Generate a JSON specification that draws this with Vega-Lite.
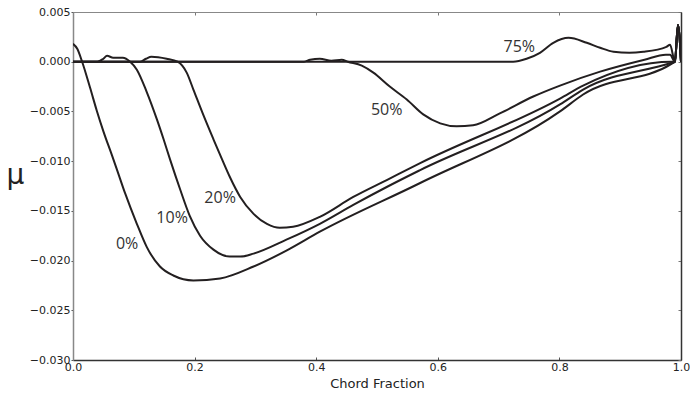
{
  "$schema": "https://vega.github.io/schema/vega-lite/v6.json",
  "width": 608,
  "height": 348,
  "autosize": {"type": "none"},
  "padding": {"left": 73, "top": 12, "right": 9, "bottom": 34},
  "background": "white",
  "config": {"view": {"stroke": null}},
  "datasets": {
    "curves": [
      {"curve": "0%", "x": 0, "mu": 0.0018},
      {"curve": "0%", "x": 0.007, "mu": 0.0013},
      {"curve": "0%", "x": 0.015, "mu": 0.0},
      {"curve": "0%", "x": 0.028, "mu": -0.0026},
      {"curve": "0%", "x": 0.039, "mu": -0.0049},
      {"curve": "0%", "x": 0.05, "mu": -0.007},
      {"curve": "0%", "x": 0.064, "mu": -0.0094},
      {"curve": "0%", "x": 0.072, "mu": -0.0108},
      {"curve": "0%", "x": 0.0855, "mu": -0.0132},
      {"curve": "0%", "x": 0.105, "mu": -0.0163},
      {"curve": "0%", "x": 0.121, "mu": -0.0186},
      {"curve": "0%", "x": 0.143, "mu": -0.0206},
      {"curve": "0%", "x": 0.165, "mu": -0.0215},
      {"curve": "0%", "x": 0.198, "mu": -0.022},
      {"curve": "0%", "x": 0.242, "mu": -0.0218},
      {"curve": "0%", "x": 0.297, "mu": -0.0206},
      {"curve": "0%", "x": 0.351, "mu": -0.019},
      {"curve": "0%", "x": 0.406, "mu": -0.0171},
      {"curve": "0%", "x": 0.571, "mu": -0.0122},
      {"curve": "0%", "x": 0.801, "mu": -0.005},
      {"curve": "0%", "x": 0.839, "mu": -0.0033},
      {"curve": "0%", "x": 0.985, "mu": -0.0002},
      {"curve": "0%", "x": 0.99, "mu": 0.0},
      {"curve": "0%", "x": 0.995, "mu": 0.0037},
      {"curve": "0%", "x": 1.0, "mu": 0.0},

      {"curve": "10%", "x": 0, "mu": 0.0},
      {"curve": "10%", "x": 0.04, "mu": 0.0},
      {"curve": "10%", "x": 0.05, "mu": 0.0003},
      {"curve": "10%", "x": 0.056, "mu": 0.0006},
      {"curve": "10%", "x": 0.066, "mu": 0.0004},
      {"curve": "10%", "x": 0.082, "mu": 0.0004},
      {"curve": "10%", "x": 0.094, "mu": 0.0},
      {"curve": "10%", "x": 0.105, "mu": -0.0008},
      {"curve": "10%", "x": 0.121, "mu": -0.003},
      {"curve": "10%", "x": 0.138, "mu": -0.0058},
      {"curve": "10%", "x": 0.149, "mu": -0.0078},
      {"curve": "10%", "x": 0.16, "mu": -0.0099},
      {"curve": "10%", "x": 0.176, "mu": -0.0128},
      {"curve": "10%", "x": 0.192, "mu": -0.0155},
      {"curve": "10%", "x": 0.209, "mu": -0.0175},
      {"curve": "10%", "x": 0.231, "mu": -0.0189},
      {"curve": "10%", "x": 0.258, "mu": -0.0196},
      {"curve": "10%", "x": 0.275, "mu": -0.0196},
      {"curve": "10%", "x": 0.297, "mu": -0.0193},
      {"curve": "10%", "x": 0.351, "mu": -0.0179},
      {"curve": "10%", "x": 0.406, "mu": -0.0163},
      {"curve": "10%", "x": 0.461, "mu": -0.0144},
      {"curve": "10%", "x": 0.516, "mu": -0.0126},
      {"curve": "10%", "x": 0.571, "mu": -0.0109},
      {"curve": "10%", "x": 0.801, "mu": -0.0043},
      {"curve": "10%", "x": 0.839, "mu": -0.0028},
      {"curve": "10%", "x": 0.985, "mu": -0.0001},
      {"curve": "10%", "x": 0.99, "mu": 0.0},
      {"curve": "10%", "x": 0.995, "mu": 0.0037},
      {"curve": "10%", "x": 1.0, "mu": 0.0},

      {"curve": "20%", "x": 0, "mu": 0.0},
      {"curve": "20%", "x": 0.11, "mu": 0.0},
      {"curve": "20%", "x": 0.12, "mu": 0.0003},
      {"curve": "20%", "x": 0.129, "mu": 0.0005},
      {"curve": "20%", "x": 0.154, "mu": 0.0003},
      {"curve": "20%", "x": 0.172, "mu": 0.0},
      {"curve": "20%", "x": 0.187, "mu": -0.0011},
      {"curve": "20%", "x": 0.198, "mu": -0.0028},
      {"curve": "20%", "x": 0.214, "mu": -0.0053},
      {"curve": "20%", "x": 0.231, "mu": -0.0078},
      {"curve": "20%", "x": 0.245, "mu": -0.0098},
      {"curve": "20%", "x": 0.258, "mu": -0.0116},
      {"curve": "20%", "x": 0.275, "mu": -0.0136},
      {"curve": "20%", "x": 0.297, "mu": -0.0153},
      {"curve": "20%", "x": 0.319, "mu": -0.0163},
      {"curve": "20%", "x": 0.34, "mu": -0.0167},
      {"curve": "20%", "x": 0.362, "mu": -0.0166},
      {"curve": "20%", "x": 0.406, "mu": -0.0156},
      {"curve": "20%", "x": 0.461, "mu": -0.0136},
      {"curve": "20%", "x": 0.516, "mu": -0.0119},
      {"curve": "20%", "x": 0.571, "mu": -0.0102},
      {"curve": "20%", "x": 0.801, "mu": -0.0037},
      {"curve": "20%", "x": 0.839, "mu": -0.0024},
      {"curve": "20%", "x": 0.985, "mu": 0.0},
      {"curve": "20%", "x": 0.99, "mu": 0.0},
      {"curve": "20%", "x": 0.995, "mu": 0.0037},
      {"curve": "20%", "x": 1.0, "mu": 0.0},

      {"curve": "50%", "x": 0, "mu": 0.0},
      {"curve": "50%", "x": 0.38, "mu": 0.0},
      {"curve": "50%", "x": 0.39, "mu": 0.0002},
      {"curve": "50%", "x": 0.406, "mu": 0.0003},
      {"curve": "50%", "x": 0.425, "mu": 0.0001},
      {"curve": "50%", "x": 0.442, "mu": 0.0002},
      {"curve": "50%", "x": 0.452, "mu": 0.0},
      {"curve": "50%", "x": 0.475, "mu": -0.0004},
      {"curve": "50%", "x": 0.494, "mu": -0.0011},
      {"curve": "50%", "x": 0.521, "mu": -0.0025},
      {"curve": "50%", "x": 0.549, "mu": -0.0038},
      {"curve": "50%", "x": 0.576, "mu": -0.0053},
      {"curve": "50%", "x": 0.604, "mu": -0.0062},
      {"curve": "50%", "x": 0.631, "mu": -0.0065},
      {"curve": "50%", "x": 0.658, "mu": -0.0064},
      {"curve": "50%", "x": 0.702, "mu": -0.0052},
      {"curve": "50%", "x": 0.757, "mu": -0.0035},
      {"curve": "50%", "x": 0.801, "mu": -0.0024},
      {"curve": "50%", "x": 0.867, "mu": -0.001},
      {"curve": "50%", "x": 0.94, "mu": 0.0002},
      {"curve": "50%", "x": 0.975, "mu": 0.0007},
      {"curve": "50%", "x": 0.982, "mu": 0.0007},
      {"curve": "50%", "x": 0.99, "mu": 0.0},
      {"curve": "50%", "x": 0.995, "mu": 0.0037},
      {"curve": "50%", "x": 1.0, "mu": 0.0},

      {"curve": "75%", "x": 0, "mu": 0.0},
      {"curve": "75%", "x": 0.7, "mu": 0.0},
      {"curve": "75%", "x": 0.724, "mu": 0.0},
      {"curve": "75%", "x": 0.746, "mu": 0.0003},
      {"curve": "75%", "x": 0.768, "mu": 0.0009},
      {"curve": "75%", "x": 0.79, "mu": 0.0019},
      {"curve": "75%", "x": 0.815, "mu": 0.0024},
      {"curve": "75%", "x": 0.845, "mu": 0.0019},
      {"curve": "75%", "x": 0.867, "mu": 0.0014},
      {"curve": "75%", "x": 0.889, "mu": 0.001},
      {"curve": "75%", "x": 0.915, "mu": 0.0009},
      {"curve": "75%", "x": 0.938, "mu": 0.001},
      {"curve": "75%", "x": 0.976, "mu": 0.0015},
      {"curve": "75%", "x": 0.982, "mu": 0.0017},
      {"curve": "75%", "x": 0.99, "mu": 0.0},
      {"curve": "75%", "x": 0.995, "mu": 0.0037},
      {"curve": "75%", "x": 1.0, "mu": 0.0}
    ],
    "labels": [
      {"label": "75%", "x": 0.734, "mu": 0.0015},
      {"label": "50%", "x": 0.516, "mu": -0.00484},
      {"label": "20%", "x": 0.242, "mu": -0.01371},
      {"label": "10%", "x": 0.163, "mu": -0.01573},
      {"label": "0%", "x": 0.089, "mu": -0.01835}
    ]
  },
  "resolve": {"axis": {"x": "independent", "y": "independent"}},
  "layer": [
    {
      "data": {"name": "curves"},
      "mark": {"type": "line", "interpolate": "monotone", "color": "#231f20", "strokeWidth": 2, "clip": true},
      "encoding": {
        "x": {
          "field": "x", "type": "quantitative",
          "scale": {"domain": [0, 1], "nice": false, "zero": false},
          "axis": {
            "title": "Chord Fraction", "values": [0, 0.2, 0.4, 0.6, 0.8, 1.0], "format": ".1f",
            "grid": false, "domainColor": "#333333", "domainWidth": 1.5, "labelFlush": false,
            "tickColor": "#555555", "tickSize": -3, "labelPadding": 4,
            "labelFont": "DejaVu Sans", "labelFontSize": 11, "labelColor": "#222222",
            "titleFont": "DejaVu Sans", "titleFontSize": 13, "titleFontWeight": "normal", "titleColor": "#222222",
            "titlePadding": 5
          }
        },
        "y": {
          "field": "mu", "type": "quantitative",
          "scale": {"domain": [-0.03, 0.005], "nice": false, "zero": false},
          "axis": {
            "title": "μ", "values": [-0.03, -0.025, -0.02, -0.015, -0.01, -0.005, 0, 0.005], "format": ".3f",
            "grid": false, "domainColor": "#888888", "domainWidth": 1.5, "labelFlush": false,
            "tickColor": "#555555", "tickSize": 2, "labelPadding": 1,
            "labelFont": "DejaVu Sans", "labelFontSize": 11, "labelColor": "#222222",
            "titleFont": "DejaVu Sans", "titleFontSize": 28, "titleFontWeight": "normal", "titleColor": "#222222",
            "titleAngle": 0, "titleAlign": "center", "titleBaseline": "middle", "titleX": -58, "titleY": 163
          }
        },
        "detail": {"field": "curve", "type": "nominal"}
      }
    },
    {
      "data": {"name": "labels"},
      "mark": {"type": "text", "font": "Open Sans", "fontSize": 16, "color": "#333333", "align": "center", "baseline": "middle"},
      "encoding": {
        "x": {
          "field": "x", "type": "quantitative",
          "scale": {"domain": [0, 1], "nice": false, "zero": false},
          "axis": {"orient": "top", "title": null, "labels": false, "values": [0, 0.2, 0.4, 0.6, 0.8, 1.0], "grid": false, "domainColor": "#888888", "tickColor": "#777777", "tickSize": -3}
        },
        "y": {
          "field": "mu", "type": "quantitative",
          "scale": {"domain": [-0.03, 0.005], "nice": false, "zero": false},
          "axis": {"orient": "right", "title": null, "labels": false, "values": [-0.03, -0.025, -0.02, -0.015, -0.01, -0.005, 0, 0.005], "grid": false, "domainColor": "#333333", "domainWidth": 1.5, "tickColor": "#777777", "tickSize": -3}
        },
        "text": {"field": "label", "type": "nominal"}
      }
    }
  ]
}
